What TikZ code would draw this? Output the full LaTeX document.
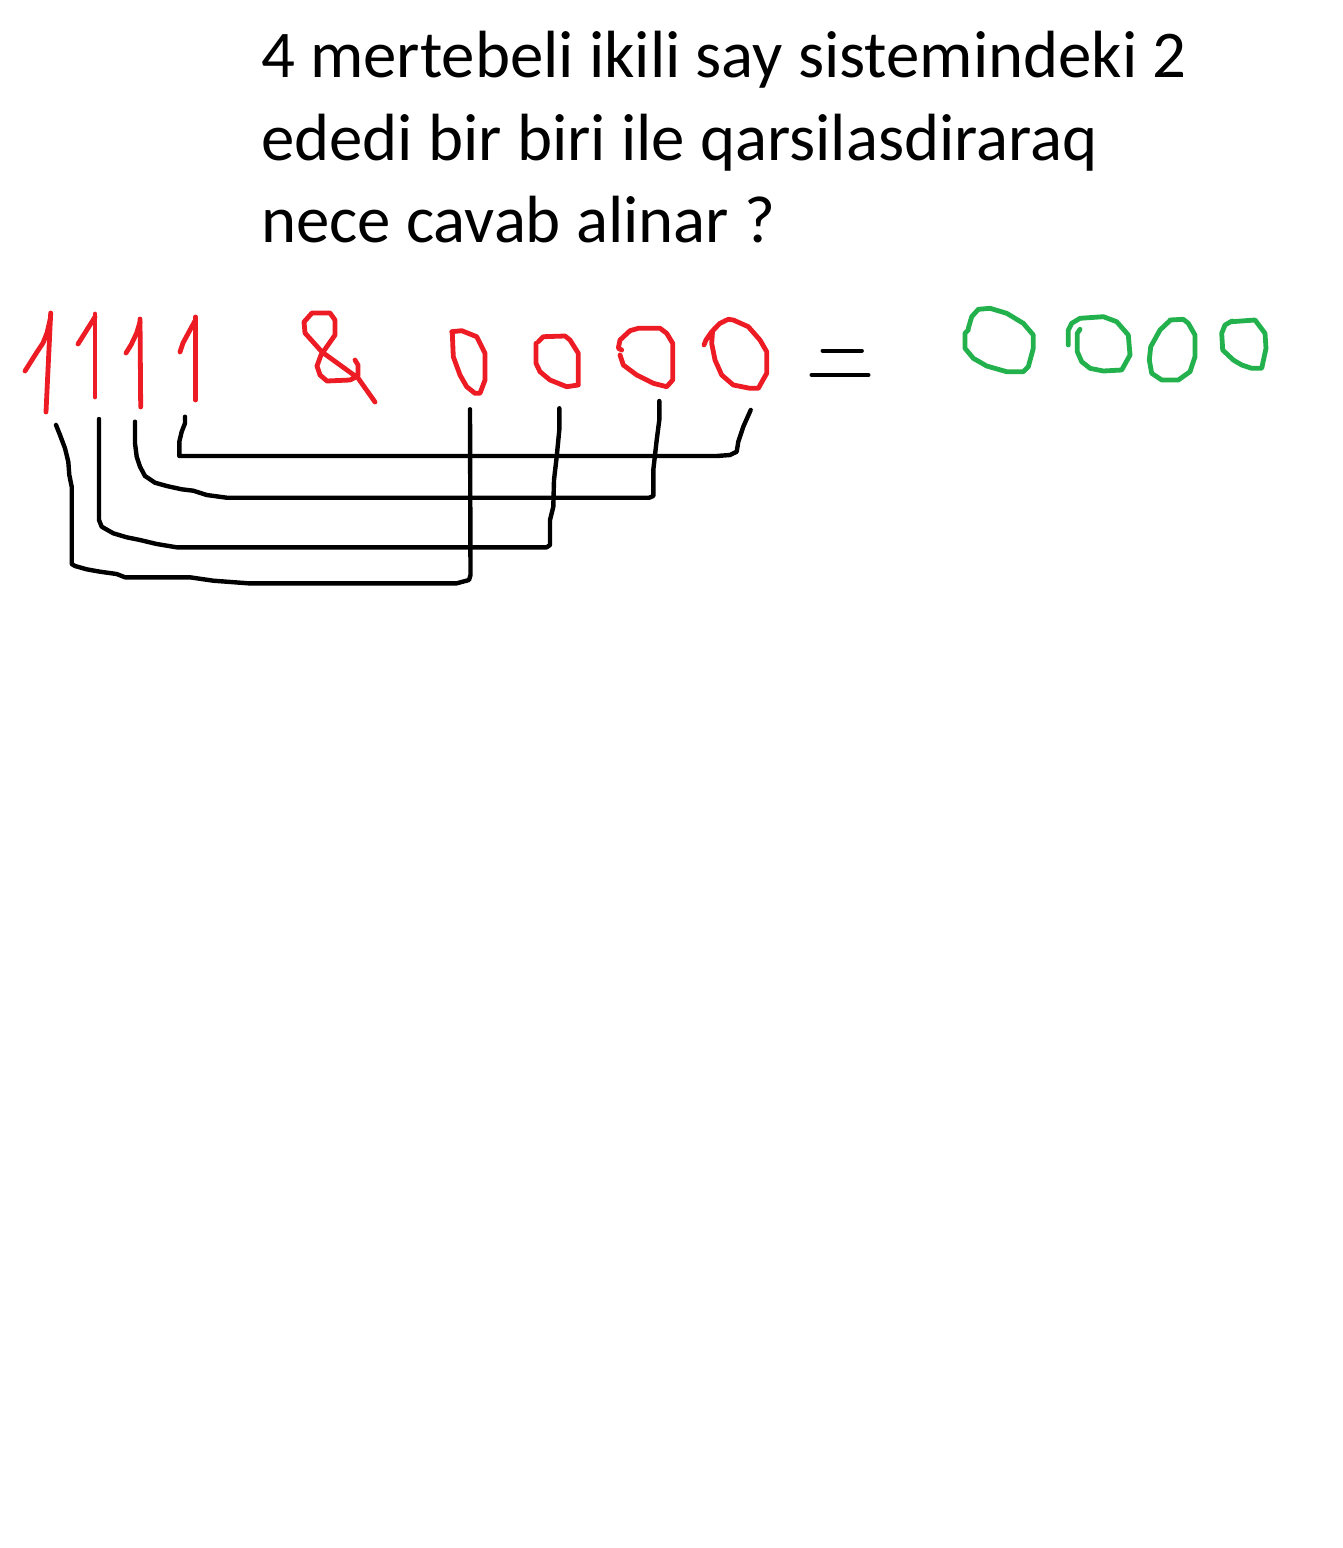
\documentclass[tikz,border=0pt]{standalone}
\usepackage{fontspec}
\setmainfont{Carlito}
\definecolor{pred}{RGB}{237,28,36}
\definecolor{pgreen}{RGB}{34,177,76}
\begin{document}
\begin{tikzpicture}[x=1pt,y=-1pt,
  redink/.style={draw=pred,line width=4.8pt,line cap=round,line join=round},
  greenink/.style={draw=pgreen,line width=4.8pt,line cap=round,line join=round},
  blackink/.style={draw=black,line width=4.4pt,line cap=round,line join=round},
  qtext/.style={anchor=base west,inner sep=0pt,font=\fontsize{66.8}{82}\selectfont}]
\useasboundingbox[fill=white] (0,0) rectangle (1343,1548);
% question text
\node[qtext] (t1) at (261,77) {4 mertebeli ikili say sistemindeki 2};
\node[qtext] (t2) at (261,160) {ededi bir biri ile qarsilasdiraraq};
\node[qtext] (t3) at (261,242) {nece cavab alinar ?};
% red ones
\draw[redink] (50.7,313) -- (46,412);
\draw[redink] (25,371) -- (37,352) -- (43,343) -- (47,333) -- (50.5,318);
\draw[redink] (95,314) -- (95,397);
\draw[redink] (78,344) -- (95,317);
\draw[redink] (140,319) -- (140.7,407);
\draw[redink] (126,353) -- (131,345) -- (136.7,333) -- (140,322);
\draw[redink] (195.7,317) -- (195.7,400);
\draw[redink] (180,352) -- (183,343) -- (190,330) -- (195.5,320);
% ampersand
\draw[redink] (355,360) -- (358,365) -- (358,376) -- (350,380) -- (327,381) -- (320,375) -- (317,366) -- (321,355) -- (335,335) -- (335,320) -- (330,313) -- (312,313) -- (304,322) -- (305,333) -- (322,352) -- (340,365) -- (358,378) -- (375,402);
% red zeros
\draw[redink] (451.7,331.7) -- (461.7,330.7) -- (476.7,336.7) -- (485,353.3) -- (485,380) -- (480,393.3) -- (475,393.3) -- (466.7,386.7) -- (460,375) -- (453.3,356.7) -- (452.3,333.3);
\draw[redink] (538.3,341.7) -- (543.3,336.7) -- (565,336) -- (570,340) -- (578.3,353.3) -- (578.3,385) -- (566.7,386.7) -- (550,380) -- (540,371.7) -- (536,363.3) -- (536,343.3);
\draw[redink] (621.7,350) -- (618.3,348.3) -- (620,340) -- (630,330.7) -- (638.3,328.3) -- (660,328.3) -- (666.7,333.3) -- (672.7,343.3) -- (672.7,380) -- (666.7,386.7) -- (653.3,383.3) -- (636.7,375) -- (623.3,365) -- (620,355);
\draw[redink] (704,345) -- (706,340) -- (711.7,331.7) -- (720,323.3) -- (728.3,319.3) -- (733.3,320) -- (748.3,326.7) -- (760,340) -- (766.7,351.7) -- (766.7,373.3) -- (758.3,388.3) -- (750,388.3) -- (733.3,385) -- (721.7,375) -- (715,360) -- (711.7,343.3) -- (712.5,332);
% equals sign
\draw[blackink] (822.7,350.7) -- (861.7,350.7);
\draw[blackink] (811.7,375) -- (868.3,375);
% green zeros
\draw[greenink] (968.3,330) -- (965,333.3) -- (965,348.3) -- (973.3,358.3) -- (986.7,366) -- (1006.7,371.7) -- (1023.3,371.7) -- (1028.3,366.7) -- (1033.3,348.3) -- (1033.3,335) -- (1023.3,323.3) -- (1006.7,313.3) -- (990,308.3) -- (978.3,309.3) -- (971.7,316.7) -- (968.3,328.3);
\draw[greenink] (1068.3,345) -- (1068.3,330) -- (1071.7,323.3) -- (1080,318.3) -- (1103.3,316.7) -- (1116.7,321.7) -- (1128.3,335) -- (1130,355) -- (1121.7,370) -- (1103.3,371) -- (1090,368.3) -- (1081.7,361.7) -- (1077.3,351.7) -- (1077.3,333.3) -- (1080,329.3);
\draw[greenink] (1170,320) -- (1183.3,319.3) -- (1188.3,323.3) -- (1195,335) -- (1195,356.7) -- (1190,371.7) -- (1178.3,380) -- (1161.7,380) -- (1151.7,373.3) -- (1149.3,360) -- (1150.7,346.7) -- (1160,330) -- (1170,320.5);
\draw[greenink] (1231.7,321.7) -- (1255,320) -- (1265,333.3) -- (1266,348.3) -- (1261.7,368.3) -- (1251.7,368.3) -- (1241.7,365) -- (1233.3,360) -- (1222.7,350) -- (1221.7,333.3) -- (1225,325) -- (1232,321);
% connector end points
\coordinate (a1) at (56,425);
\coordinate (a2) at (99,419);
\coordinate (a3) at (135,421.7);
\coordinate (a4) at (185,416.7);
\coordinate (b1) at (470,409.3);
\coordinate (b2) at (559.3,408.3);
\coordinate (b3) at (659.3,401);
\coordinate (b4) at (750.7,410);
% connectors
\draw[blackink] (a1) -- (60,435) -- (65,448.3) -- (68.3,461.7) -- (69.3,475) -- (71.7,486.7) -- (71.7,564) -- (75,566) -- (86.7,569.3) -- (100,571.7) -- (116.7,574) -- (125,577.3) -- (190,577.3) -- (213.3,580.7) -- (248.3,583.3) -- (456.7,583.3) -- (469,580) -- (470.5,575) -- (b1);
\draw[blackink] (a2) -- (99,520) -- (101.7,526.7) -- (113.3,533.3) -- (126.7,537.3) -- (140,540) -- (156.7,544) -- (176.7,547.3) -- (546.7,547.3) -- (550,545) -- (550,520) -- (553.3,506.7) -- (554,480) -- (556.7,456.7) -- (559.3,430) -- (b2);
\draw[blackink] (a3) -- (135,443.3) -- (136.7,456.7) -- (140,466.7) -- (145,476) -- (155,482.7) -- (166.7,486) -- (181.7,489.3) -- (193.3,490.7) -- (206.7,495) -- (226.7,497.7) -- (649.3,497.7) -- (653.3,496) -- (653.3,470) -- (655,455) -- (656.7,440) -- (659.3,420) -- (b3);
\draw[blackink] (a4) -- (185,423.3) -- (181.7,431.7) -- (179.3,441.7) -- (179.3,456) -- (716.7,456) -- (730,455) -- (736.7,451.7) -- (738.3,441.7) -- (743.3,426.7) -- (b4);
\end{tikzpicture}
\end{document}
